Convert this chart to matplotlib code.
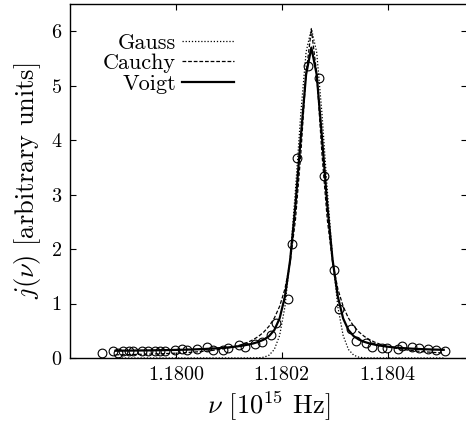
import numpy as np
import matplotlib
matplotlib.use('Agg')
import matplotlib.pyplot as plt
from matplotlib.ticker import FormatStrFormatter, MultipleLocator

plt.rcParams['font.family'] = 'serif'
plt.rcParams['font.serif'] = ['cmr10', 'DejaVu Serif']
plt.rcParams['mathtext.fontset'] = 'cm'
plt.rcParams['axes.formatter.use_mathtext'] = True

# measured line profile (frequency in 1e15 Hz, intensity in arbitrary units)
freq = [1.179860, 1.179881, 1.179891, 1.179900, 1.179911, 1.179919, 1.179936,
        1.179947, 1.179960, 1.179970, 1.179979, 1.179998, 1.180011, 1.180021,
        1.180040, 1.180058, 1.180070, 1.180089, 1.180098, 1.180119, 1.180130,
        1.180149, 1.180162, 1.180179, 1.180189, 1.180211, 1.180219, 1.180228,
        1.180249, 1.180270, 1.180279, 1.180298, 1.180309, 1.180330, 1.180340,
        1.180360, 1.180370, 1.180389, 1.180398, 1.180419, 1.180428, 1.180447,
        1.180459, 1.180477, 1.180491, 1.180509]
intensity = [0.10, 0.13, 0.10, 0.12, 0.12, 0.12, 0.12,
             0.12, 0.12, 0.12, 0.12, 0.15, 0.17, 0.15,
             0.17, 0.21, 0.15, 0.15, 0.19, 0.24, 0.21,
             0.25, 0.29, 0.43, 0.65, 1.08, 2.09, 3.67,
             5.36, 5.14, 3.34, 1.61, 0.90, 0.53, 0.31,
             0.27, 0.21, 0.19, 0.19, 0.16, 0.22, 0.20,
             0.19, 0.17, 0.15, 0.13]

x_ticks = [1.1800, 1.1802, 1.1804]

# fitted profile parameters
nu0 = 1.180256
gauss_par = [6.05, 2.59e-5, 0.0]           # amplitude, sigma, offset
cauchy_par = [6.0, 2.55e-5, 0.03]          # amplitude, half width, offset
voigt_par = [5.58, 2.92e-5, 0.40, 0.12]    # amplitude, half width, lorentz fraction, offset


def gauss(x, a, s, c):
    return a*np.exp(-(x - nu0)**2/(2*s**2)) + c


def cauchy(x, a, g, c):
    return a*g**2/((x - nu0)**2 + g**2) + c


def voigt(x, a, h, eta, c):
    lor = h**2/((x - nu0)**2 + h**2)
    gau = np.exp(-np.log(2)*(x - nu0)**2/h**2)
    return a*(eta*lor + (1 - eta)*gau) + c


x = nu0 + np.arange(-37, 26)*1.0e-5

fig = plt.figure(figsize=(4.66, 4.24), dpi=100)
ax = fig.add_axes([70/466, 66/424, 397/466, 354/424])

ax.plot(x, gauss(x, *gauss_par), color='black', linestyle=(0, (1, 1.5)),
        linewidth=0.9, label='Gauss')
ax.plot(x, cauchy(x, *cauchy_par), color='black', linestyle=(0, (3, 1.5)),
        linewidth=0.9, label='Cauchy')
ax.plot(x, voigt(x, *voigt_par), color='black', linestyle='solid',
        linewidth=1.6, label='Voigt')
ax.plot(freq, intensity, linestyle='none', marker='o', markersize=6.3,
        markerfacecolor='none', markeredgecolor='black', markeredgewidth=0.8)

ax.set_xlim(1.1798, 1.18055)
ax.set_ylim(0, 6.5)
ax.set_xticks(x_ticks)
ax.xaxis.set_major_formatter(FormatStrFormatter('%.4f'))
ax.yaxis.set_major_locator(MultipleLocator(1))
ax.yaxis.set_major_formatter(FormatStrFormatter('%d'))
ax.tick_params(direction='in', top=True, right=True, length=4, width=0.8,
               labelsize=14.5, pad=6)
for sp in ax.spines.values():
    sp.set_linewidth(1.0)

ax.set_xlabel(r'$\nu$ [$10^{15}$ Hz]', fontsize=19, labelpad=4)
ax.set_ylabel(r'$j(\nu)$ [arbitrary units]', fontsize=19, labelpad=6)

ax.legend(loc='upper right', bbox_to_anchor=(0.413, 0.918), markerfirst=False,
          frameon=False, fontsize=16, handlelength=2.35, handletextpad=0.25,
          labelspacing=0.05, borderpad=0, borderaxespad=0)

fig.savefig('out.png', dpi=100)
